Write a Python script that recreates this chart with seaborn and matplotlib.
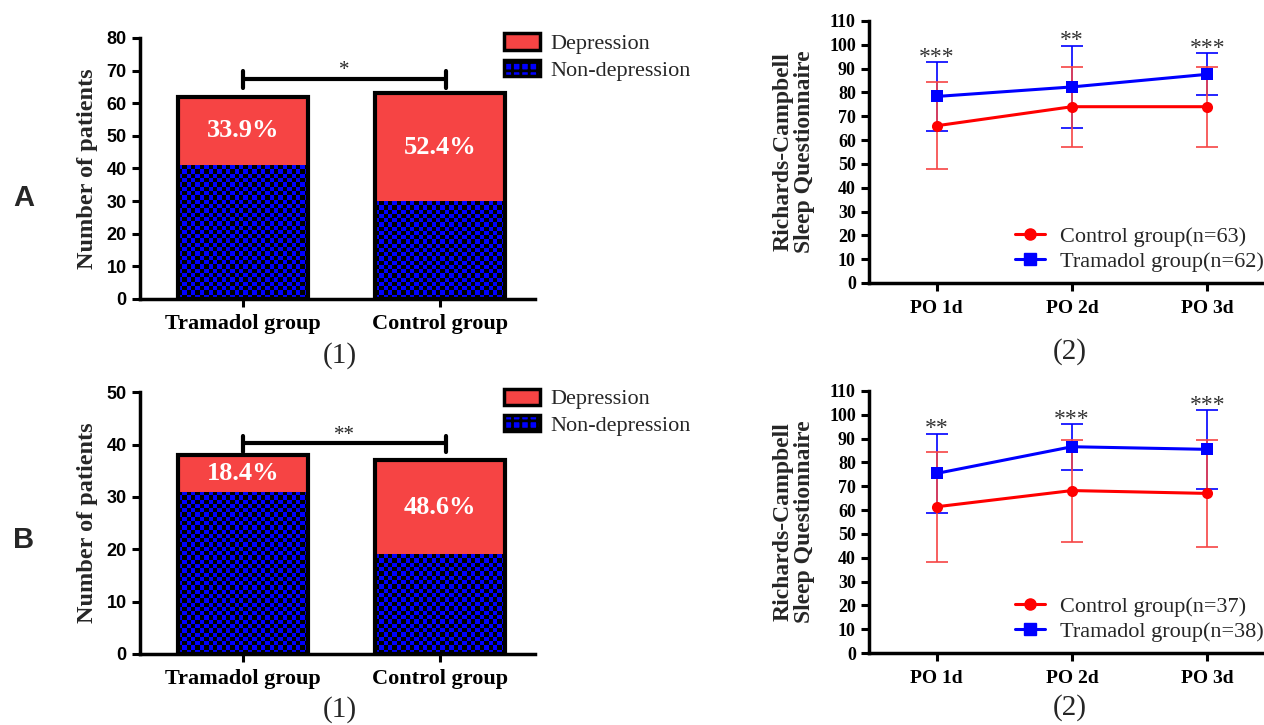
import numpy as np
import pandas as pd
import matplotlib
matplotlib.use('Agg')
import matplotlib.pyplot as plt
import seaborn as sns
from matplotlib.colors import ListedColormap
from matplotlib.patches import Patch, Rectangle
from matplotlib.lines import Line2D

# --------- DATA ----------
groups = ["Tramadol group", "Control group"]
a_total = [62, 63]
a_nondep = [41, 30]
a_pct = ["33.9%", "52.4%"]
b_total = [38, 37]
b_nondep = [31, 19]
b_pct = ["18.4%", "48.6%"]

days = ["PO 1d", "PO 2d", "PO 3d"]
a_ctrl_mean = [66.0, 74.0, 74.0]
a_ctrl_sd = [18.3, 16.8, 16.8]
a_tram_mean = [78.3, 82.3, 87.6]
a_tram_sd = [14.5, 17.3, 8.8]
a_stars = ["***", "**", "***"]
a_n = (63, 62)

b_ctrl_mean = [61.4, 68.2, 67.0]
b_ctrl_sd = [23.1, 21.4, 22.3]
b_tram_mean = [75.4, 86.6, 85.5]
b_tram_sd = [16.7, 9.6, 16.5]
b_stars = ["**", "***", "***"]
b_n = (37, 38)

# --------- STYLE ----------
RED = '#F64444'
BLUE = '#0000FF'
SERIF = 'Liberation Serif'
SANS = 'Liberation Sans'

sns.set_style('ticks')
plt.rcParams['font.family'] = [SERIF, 'DejaVu Serif']
plt.rcParams['hatch.linewidth'] = 2.0

fig = plt.figure(figsize=(12.64, 7.25), dpi=100)


def style_axes(ax):
    for s in ['top', 'right']:
        ax.spines[s].set_visible(False)
    for s in ['left', 'bottom']:
        ax.spines[s].set_linewidth(2.5)
        ax.spines[s].set_color('black')
    ax.tick_params(axis='both', direction='out', length=6, width=2.2, colors='black')


def bar_panel(ax, total, nondep, pct, ymax, ystep, bracket_y, star):
    sns.barplot(x=groups, y=total, color=RED, width=0.66, linewidth=0,
                saturation=1, ax=ax, zorder=1)
    sns.barplot(x=groups, y=nondep, color=BLUE, width=0.66, linewidth=0,
                saturation=1, ax=ax, zorder=1)
    ax.set_xlim(-0.52, 1.48)
    ax.set_ylim(0, ymax)
    ax.set_yticks(np.arange(0, ymax + 1, ystep))
    red_bars = ax.patches[:2]
    blue_bars = ax.patches[2:4]

    # checkered fill of the non-depression segment
    cmap = ListedColormap([BLUE, 'black'])
    for p in blue_bars:
        ext = p.get_window_extent()
        ncol = max(1, int(round(ext.width / 4.3)))
        nrow = max(1, int(round(ext.height / 4.3)))
        board = np.indices((nrow, ncol)).sum(axis=0) % 2
        x0, y0 = p.get_xy()
        im = ax.imshow(board, cmap=cmap, interpolation='nearest', aspect='auto',
                       origin='lower', zorder=2,
                       extent=(x0, x0 + p.get_width(), y0, y0 + p.get_height()))
        im.set_clip_path(p)
    ax.set_xlim(-0.52, 1.48)
    ax.set_ylim(0, ymax)

    # outline of whole bar
    for p in red_bars:
        ax.add_patch(Rectangle(p.get_xy(), p.get_width(), p.get_height(),
                               fill=False, ec='black', lw=3, zorder=3))

    # percentage labels
    for i, (t, n, s) in enumerate(zip(total, nondep, pct)):
        ax.text(i, (t + n) / 2, s, ha='center', va='center', color='white',
                fontsize=19, fontweight='bold', family=SERIF, zorder=4)

    # significance bracket
    hb = ymax * 0.035
    ax.plot([0, 1.03], [bracket_y, bracket_y], color='black', lw=3, clip_on=False)
    for xb in [0, 1.03]:
        ax.plot([xb, xb], [bracket_y - hb, bracket_y + hb * 0.8], color='black',
                lw=3, clip_on=False)
    ax.text(0.515, bracket_y + ymax * 0.03, star, ha='center', va='center',
            fontsize=15, family=SERIF)

    style_axes(ax)
    ax.set_xlabel('')
    ax.set_ylabel('Number of patients', fontsize=17.5, fontweight='bold', family=SERIF,
                  labelpad=6)
    ax.set_xticks([0, 1])
    ax.set_xticklabels(groups, fontsize=16, fontweight='bold', family=SERIF)
    ax.tick_params(axis='x', pad=5)
    for lab in ax.get_yticklabels():
        lab.set_fontfamily(SANS)
        lab.set_fontweight('bold')
        lab.set_fontsize(13)


def line_panel(ax, cm, cs, tm, ts, stars, n):
    x = np.arange(len(days))
    ctrl_lab = f'Control group(n={n[0]})'
    tram_lab = f'Tramadol group(n={n[1]})'
    df = pd.DataFrame({
        'day': np.concatenate([x, x]),
        'score': cm + tm,
        'group': [ctrl_lab] * 3 + [tram_lab] * 3,
    })
    ax.errorbar(x, tm, yerr=ts, fmt='none', ecolor=BLUE, elinewidth=1.2,
                capsize=8, capthick=1.2, zorder=1)
    ax.errorbar(x, cm, yerr=cs, fmt='none', ecolor=RED, elinewidth=1.2,
                capsize=8, capthick=1.2, zorder=1)
    sns.lineplot(data=df, x='day', y='score', hue='group', style='group',
                 palette={ctrl_lab: 'red', tram_lab: BLUE},
                 markers={ctrl_lab: 'o', tram_lab: 's'}, dashes=False,
                 markersize=8, markeredgewidth=0, linewidth=2.2, ax=ax, zorder=3,
                 legend=False)
    tops = np.maximum(np.array(cm) + np.array(cs), np.array(tm) + np.array(ts))
    for i, s in enumerate(stars):
        ax.text(i, tops[i] + 2.0, s, ha='center', va='center', fontsize=17,
                color='#333333', family=SERIF)
    ax.set_xlim(-0.5, 2.42)
    ax.set_ylim(0, 110)
    ax.set_yticks(np.arange(0, 111, 10))
    ax.set_xticks(x)
    ax.set_xticklabels(days, fontsize=14, fontweight='bold', family=SERIF)
    for lab in ax.get_yticklabels():
        lab.set_fontweight('bold')
        lab.set_fontsize(13)
    ax.tick_params(axis='x', pad=6)
    ax.set_xlabel('')
    ax.set_ylabel('Richards-Campbell\nSleep Questionnaire', fontsize=17,
                  fontweight='bold', family=SERIF, linespacing=1.05, labelpad=10)
    style_axes(ax)
    handles = [Line2D([], [], color='red', marker='o', lw=2.2, markersize=8),
               Line2D([], [], color=BLUE, marker='s', lw=2.2, markersize=8)]
    return handles, [ctrl_lab, tram_lab]


# --------- BAR PANELS ----------
ax1 = fig.add_axes([0.1108, 0.5876, 0.3125, 0.36])
bar_panel(ax1, a_total, a_nondep, a_pct, 80, 10, 67.5, '*')
ax3 = fig.add_axes([0.1108, 0.098, 0.3125, 0.361])
bar_panel(ax3, b_total, b_nondep, b_pct, 50, 10, 40.3, '**')

bar_handles = [Patch(facecolor=RED, edgecolor='black', lw=2.5),
               Patch(facecolor=BLUE, edgecolor='black', lw=2.5, hatch='++')]
for ax, top in [(ax1, 0.954), (ax3, 0.464)]:
    ax.legend(bar_handles, ['Depression', 'Non-depression'], loc='upper left',
              bbox_to_anchor=(0.399, top), bbox_transform=fig.transFigure,
              frameon=False, fontsize=16, handlelength=1.6, handleheight=0.75,
              handletextpad=0.45, borderpad=0, borderaxespad=0, labelspacing=0.25)

# --------- LINE PANELS ----------
ax2 = fig.add_axes([0.6875, 0.6097, 0.3125, 0.3614])
h, l = line_panel(ax2, a_ctrl_mean, a_ctrl_sd, a_tram_mean, a_tram_sd, a_stars, a_n)
ax2.legend(h, l, loc='upper left', bbox_to_anchor=(0.803, 0.688),
           bbox_transform=fig.transFigure, frameon=False, fontsize=16,
           handlelength=1.35, handletextpad=0.68, borderpad=0, borderaxespad=0,
           labelspacing=0.2)
ax4 = fig.add_axes([0.6875, 0.0993, 0.3125, 0.3614])
h, l = line_panel(ax4, b_ctrl_mean, b_ctrl_sd, b_tram_mean, b_tram_sd, b_stars, b_n)
ax4.legend(h, l, loc='upper left', bbox_to_anchor=(0.803, 0.178),
           bbox_transform=fig.transFigure, frameon=False, fontsize=16,
           handlelength=1.35, handletextpad=0.68, borderpad=0, borderaxespad=0,
           labelspacing=0.2)

# panel letters and sub-captions
fig.text(24 / 1264, 1 - 198 / 725, 'A', fontsize=21, fontweight='bold', family=SANS,
         ha='center', va='center')
fig.text(24 / 1264, 1 - 540 / 725, 'B', fontsize=21, fontweight='bold', family=SANS,
         ha='center', va='center')
for xx, yy, s in [(340, 356, '(1)'), (1070, 352, '(2)'), (340, 710, '(1)'), (1070, 708, '(2)')]:
    fig.text(xx / 1264, 1 - yy / 725, s, fontsize=21, family=SERIF, ha='center', va='center')

fig.savefig('out.png', dpi=100)
plt.close(fig)
